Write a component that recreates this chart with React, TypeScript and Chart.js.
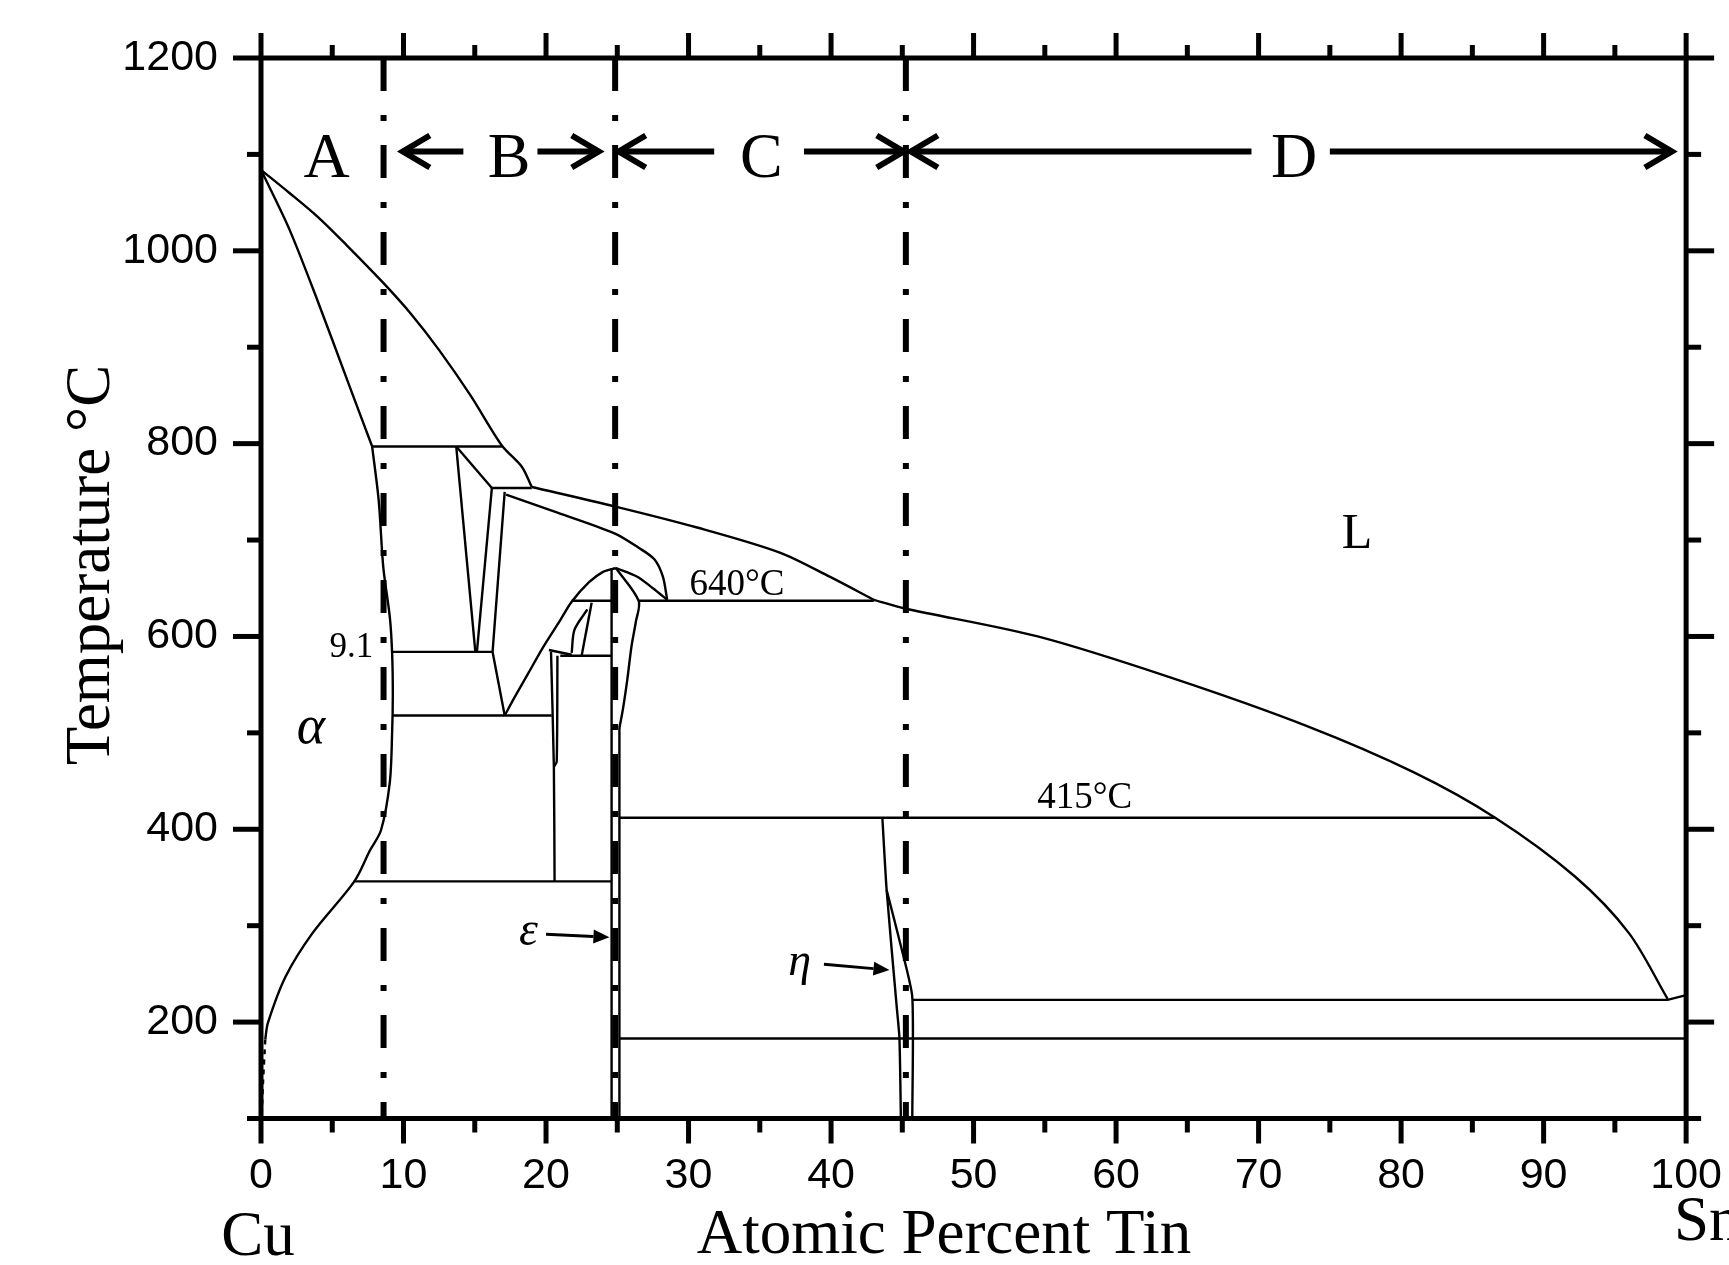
import React, { useEffect, useRef } from 'react';
import { Chart, registerables } from 'chart.js';

Chart.register(...registerables);

// ---------- data (atomic % Sn, temperature °C) ----------
const xTickValues = [0, 10, 20, 30, 40, 50, 60, 70, 80, 90, 100];
const yTickValues = [200, 400, 600, 800, 1000, 1200];

const liquidusUpper = [[0, 1084], [2, 1060], [4, 1035], [6, 1006], [8.5, 968], [10.5, 935], [12.5, 897], [14.7, 850], [16.9, 798], [18.3, 776], [19.0, 755]];
const liquidusMiddle = [[19.0, 755], [24.8, 735], [30.6, 713], [36.4, 687], [39.9, 662], [43.0, 638]];
const liquidusLower = [[43.0, 638], [45.2, 629], [54.5, 600], [63.9, 557], [73.4, 507], [80.9, 459], [86.6, 412], [92.2, 351], [96.0, 292], [98.7, 224]];
const alphaSolidus = [[0, 1084], [2, 1022], [3.95, 949], [6, 868], [7.8, 797]];
const alphaSolvus = [[7.8, 797], [8.26, 741], [8.58, 672], [9.04, 620], [9.2, 583], [9.25, 540], [9.2, 500], [9.04, 449], [8.42, 399], [7.64, 378], [6.55, 346], [3.6, 292], [1.72, 247], [0.48, 199], [0.3, 182]];
const alphaSolvusDashed = [[0.3, 182], [0.15, 140], [0.05, 103]];
const iso798 = [[7.8, 797], [16.9, 797]];
const betaLeft = [[13.7, 797], [15.04, 584]];
const betaTop = [[13.7, 797], [16.2, 754]];
const betaRight = [[16.2, 754], [15.15, 584]];
const iso755 = [[16.2, 754], [19.0, 754]];
const gammaLeft = [[17.1, 750], [16.25, 584], [17.1, 518]];
const gammaSolidus = [[17.2, 747], [20.5, 730], [24.8, 707], [26.5, 692], [27.6, 680], [28.2, 662], [28.5, 638]];
const gammaDome = [[17.1, 518], [17.8, 537], [18.8, 563], [19.8, 589], [21.0, 617], [21.8, 636], [23.0, 656], [24.0, 667], [24.9, 671]];
const domeRight = [[24.9, 671], [26.4, 662], [27.5, 650], [28.5, 638]];
const epsLens = [[24.9, 671], [26.5, 637], [26.3, 615], [26.0, 590], [25.7, 555], [25.4, 525], [25.15, 505]];
const epsLeft = [[24.6, 671], [24.6, 100]];
const epsRight = [[25.15, 505], [25.15, 100]];
const iso640a = [[21.8, 637], [24.6, 637]];
const iso640b = [[26.5, 637], [43.0, 637]];
const innerLine1 = [[23.2, 635], [22.5, 580]];
const innerLine2 = [[22.9, 628], [22.0, 607], [21.8, 583]];
const iso580 = [[21.0, 580], [24.6, 580]];
const iso586small = [[20.2, 586], [21.8, 581]];
const deltaLeft = [[20.35, 584], [20.55, 465], [20.6, 346]];
const deltaRight = [[20.8, 580], [20.75, 470], [20.55, 465]];
const iso586 = [[9.2, 584], [16.25, 584]];
const iso520 = [[9.2, 518], [20.4, 518]];
const iso350 = [[6.5, 346], [24.6, 346]];
const iso415 = [[25.15, 412], [86.6, 412]];
const etaLeft = [[43.6, 412], [43.9, 337], [44.6, 217], [44.8, 183], [44.9, 100]];
const etaRight = [[43.9, 337], [44.9, 279], [45.7, 226], [45.7, 100]];
const iso227 = [[45.7, 223], [98.7, 223], [100, 228]];
const iso186 = [[25.15, 183], [100, 183]];
const regionBoundaries = [8.6, 24.85, 45.25];

// region labels and arrows (top band)
const regionNames = ['A', 'B', 'C', 'D'];
const regionNameX = [4.6, 17.4, 35.1, 72.5];
const regionNameY = 1077;
const regionArrowTails = [14.2, 19.4, 31.8, 38.1, 69.5, 75.0];
const regionArrowHeads = [9.95, 23.7, 25.1, 45.1, 45.6, 99.0];
const regionArrowY = 1103;

// phase / temperature annotations
const noteTexts = ['L', 'α', '9.1', '640°C', '415°C', 'ε', 'η'];
const noteX = [76.9, 3.5, 6.35, 33.4, 57.8, 18.76, 37.8];
const noteY = [692, 489, 579, 643, 422, 280, 249];
const pointerFrom = [[20.0, 291], [39.5, 260]];
const pointerTo = [[24.45, 288], [44.1, 254]];

const FONT_SANS = '"Liberation Sans", Arial, sans-serif';
const FONT_SERIF = '"Liberation Serif", "Times New Roman", serif';

const toXY = (pts: number[][]) => pts.map(([x, y]) => ({ x, y }));

const curves: { pts: number[][]; tension: number; dash?: number[]; width?: number }[] = [
  { pts: liquidusUpper, tension: 0.3 },
  { pts: liquidusMiddle, tension: 0.3 },
  { pts: liquidusLower, tension: 0.3 },
  { pts: alphaSolidus, tension: 0.3 },
  { pts: alphaSolvus, tension: 0.3 },
  { pts: alphaSolvusDashed, tension: 0.2, dash: [5, 5] },
  { pts: iso798, tension: 0 },
  { pts: betaLeft, tension: 0 },
  { pts: betaTop, tension: 0 },
  { pts: betaRight, tension: 0 },
  { pts: iso755, tension: 0 },
  { pts: gammaLeft, tension: 0 },
  { pts: gammaSolidus, tension: 0.3 },
  { pts: gammaDome, tension: 0.3 },
  { pts: domeRight, tension: 0.3 },
  { pts: epsLens, tension: 0.3 },
  { pts: epsLeft, tension: 0 },
  { pts: epsRight, tension: 0 },
  { pts: iso640a, tension: 0 },
  { pts: iso640b, tension: 0 },
  { pts: innerLine1, tension: 0 },
  { pts: innerLine2, tension: 0.3 },
  { pts: iso580, tension: 0 },
  { pts: iso586small, tension: 0 },
  { pts: deltaLeft, tension: 0.2 },
  { pts: deltaRight, tension: 0.2 },
  { pts: iso586, tension: 0 },
  { pts: iso520, tension: 0 },
  { pts: iso350, tension: 0 },
  { pts: iso415, tension: 0 },
  { pts: etaLeft, tension: 0.2 },
  { pts: etaRight, tension: 0.2 },
  { pts: iso227, tension: 0 },
  { pts: iso186, tension: 0 },
];

const decorPlugin = {
  id: 'decor',
  afterDatasetsDraw(chart: any) {
    const { ctx, chartArea: a, scales } = chart;
    const xs = scales.x;
    const ys = scales.y;
    const px = (v: number) => xs.getPixelForValue(v);
    const py = (v: number) => ys.getPixelForValue(v);
    const seg = (x1: number, y1: number, x2: number, y2: number) => {
      ctx.beginPath();
      ctx.moveTo(x1, y1);
      ctx.lineTo(x2, y2);
      ctx.stroke();
    };
    ctx.save();
    ctx.strokeStyle = '#000';
    ctx.fillStyle = '#000';
    ctx.lineJoin = 'miter';
    ctx.lineCap = 'butt';

    // frame
    ctx.lineWidth = 5;
    ctx.strokeRect(a.left, a.top, a.right - a.left, a.bottom - a.top);

    // x ticks (every 5), outward on bottom and top
    for (let v = 0; v <= 100; v += 5) {
      const major = v % 10 === 0;
      const x = px(v);
      seg(x, a.bottom, x, a.bottom + (major ? 25 : 14));
      seg(x, a.top, x, a.top - (major ? 25 : 13));
    }
    // y ticks (every 100), outward on left and right
    for (let v = 100; v <= 1200; v += 100) {
      const major = v % 200 === 0;
      const y = py(v);
      seg(a.left, y, a.left - (major ? 28 : 14), y);
      seg(a.right, y, a.right + (major ? 28 : 15), y);
    }

    // region arrows
    ctx.lineWidth = 6;
    const ay = py(regionArrowY);
    regionArrowTails.forEach((t, i) => {
      const h = regionArrowHeads[i];
      const x1 = px(t);
      const x2 = px(h);
      const dir = x2 > x1 ? 1 : -1;
      seg(x1, ay, x2, ay);
      ctx.beginPath();
      ctx.moveTo(x2 - dir * 27, ay - 16);
      ctx.lineTo(x2, ay);
      ctx.lineTo(x2 - dir * 27, ay + 16);
      ctx.stroke();
    });

    // region names
    ctx.font = `64px ${FONT_SERIF}`;
    ctx.textAlign = 'center';
    ctx.textBaseline = 'alphabetic';
    regionNames.forEach((n, i) => ctx.fillText(n, px(regionNameX[i]), py(regionNameY)));

    // phase notes
    const noteFonts = [
      `50px ${FONT_SERIF}`,
      `italic 54px ${FONT_SERIF}`,
      `35px ${FONT_SERIF}`,
      `37px ${FONT_SERIF}`,
      `37px ${FONT_SERIF}`,
      `italic 48px ${FONT_SERIF}`,
      `italic 46px ${FONT_SERIF}`,
    ];
    noteTexts.forEach((t, i) => {
      ctx.font = noteFonts[i];
      ctx.fillText(t, px(noteX[i]), py(noteY[i]));
    });

    // pointer arrows for ε and η
    ctx.lineWidth = 3;
    pointerFrom.forEach((f, i) => {
      const x1 = px(f[0]);
      const y1 = py(f[1]);
      const x2 = px(pointerTo[i][0]);
      const y2 = py(pointerTo[i][1]);
      const ang = Math.atan2(y2 - y1, x2 - x1);
      const L = 16;
      const W = 7;
      const bx = x2 - L * Math.cos(ang);
      const by = y2 - L * Math.sin(ang);
      seg(x1, y1, bx, by);
      ctx.beginPath();
      ctx.moveTo(x2, y2);
      ctx.lineTo(bx + W * Math.sin(ang), by - W * Math.cos(ang));
      ctx.lineTo(bx - W * Math.sin(ang), by + W * Math.cos(ang));
      ctx.closePath();
      ctx.fill();
    });

    // axis titles
    ctx.font = `63px ${FONT_SERIF}`;
    ctx.textAlign = 'center';
    ctx.fillText('Atomic Percent Tin', 944, 1253);
    ctx.fillText('Cu', 258, 1255);
    ctx.textAlign = 'left';
    ctx.fillText('Sn', 1674, 1240);
    ctx.save();
    ctx.translate(109, 565);
    ctx.rotate(-Math.PI / 2);
    ctx.textAlign = 'center';
    ctx.fillText('Temperature °C', 0, 0);
    ctx.restore();

    ctx.restore();
  },
};

export default function App() {
  const canvasRef = useRef<HTMLCanvasElement | null>(null);

  useEffect(() => {
    const canvas = canvasRef.current;
    if (!canvas) return;

    const datasets: any[] = curves.map((c) => ({
      data: toXY(c.pts),
      showLine: true,
      borderColor: '#000',
      borderWidth: c.width ?? 2.4,
      borderDash: c.dash ?? [],
      tension: c.tension,
      pointRadius: 0,
      fill: false,
    }));
    regionBoundaries.forEach((bx) => {
      datasets.push({
        data: toXY([[bx, 1200], [bx, 100]]),
        showLine: true,
        borderColor: '#000',
        borderWidth: 6,
        borderDash: [33, 24, 6, 24],
        tension: 0,
        pointRadius: 0,
        fill: false,
      });
    });

    const chart = new Chart(canvas, {
      type: 'scatter',
      data: { datasets },
      options: {
        animation: false,
        responsive: false,
        devicePixelRatio: 1,
        layout: { padding: { top: 58, right: 34, left: 0, bottom: 0 } },
        plugins: { legend: { display: false }, tooltip: { enabled: false } },
        elements: { point: { radius: 0 } },
        scales: {
          x: {
            type: 'linear',
            position: 'bottom',
            min: 0,
            max: 100,
            afterBuildTicks: (s: any) => {
              s.ticks = xTickValues.map((v) => ({ value: v }));
            },
            ticks: {
              autoSkip: false,
              maxRotation: 0,
              color: '#000',
              padding: 7,
              font: { family: FONT_SANS, size: 43 },
              callback: (v: any) => String(v),
            },
            grid: { drawOnChartArea: false, drawTicks: true, tickLength: 25, color: 'rgba(0,0,0,0)' },
            border: { display: false },
            afterFit: (s: any) => {
              s.height = 146.5;
            },
          },
          y: {
            type: 'linear',
            position: 'left',
            min: 100,
            max: 1200,
            afterBuildTicks: (s: any) => {
              s.ticks = yTickValues.map((v) => ({ value: v }));
            },
            ticks: {
              color: '#000',
              padding: 15,
              font: { family: FONT_SANS, size: 43 },
              callback: (v: any) => String(v),
            },
            grid: { drawOnChartArea: false, drawTicks: true, tickLength: 28, color: 'rgba(0,0,0,0)' },
            border: { display: false },
            afterFit: (s: any) => {
              s.width = 261;
            },
          },
        },
      },
      plugins: [decorPlugin],
    } as any);

    return () => chart.destroy();
  }, []);

  return (
    <div style={{ position: 'absolute', left: 0, top: 0, width: 1729, height: 1265, background: '#fff', overflow: 'hidden' }}>
      <canvas ref={canvasRef} width={1729} height={1265} style={{ display: 'block' }} />
    </div>
  );
}
